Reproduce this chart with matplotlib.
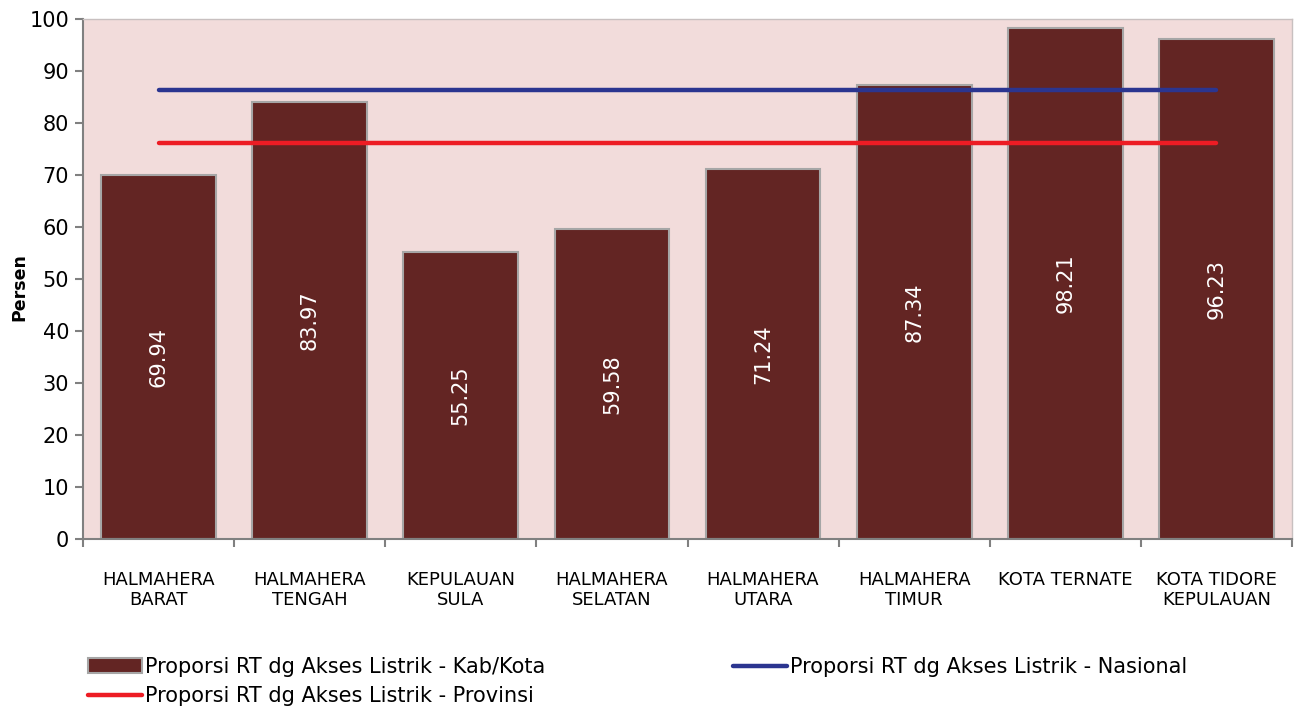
import matplotlib
matplotlib.use("Agg")
import matplotlib.pyplot as plt
import numpy as np

categories = ["HALMAHERA\nBARAT", "HALMAHERA\nTENGAH", "KEPULAUAN\nSULA", "HALMAHERA\nSELATAN",
              "HALMAHERA\nUTARA", "HALMAHERA\nTIMUR", "KOTA TERNATE", "KOTA TIDORE\nKEPULAUAN"]
kab_kota = [69.94, 83.97, 55.25, 59.58, 71.24, 87.34, 98.21, 96.23]
nasional = 86.3
provinsi = 76.1
yticks = [0, 10, 20, 30, 40, 50, 60, 70, 80, 90, 100]

fig = plt.figure(figsize=(12.97, 7.13), dpi=100)
ax = fig.add_axes([83/1297, 1-539/713, (1292-83)/1297, (539-19)/713])
ax.set_facecolor("#F2DCDB")

x = np.arange(len(categories))
bars = ax.bar(x, kab_kota, width=0.76, color="#632523", edgecolor="#A6A6A6", linewidth=1.5,
              label="Proporsi RT dg Akses Listrik - Kab/Kota", zorder=2)
for xi, v in zip(x, kab_kota):
    ax.text(xi, v/2, f"{v:.2f}", rotation=90, ha="center", va="center", color="white",
            fontsize=15, zorder=4)

ax.plot([x[0], x[-1]], [provinsi]*2, color="#ED1C24", lw=3.2, solid_capstyle="round",
        label="Proporsi RT dg Akses Listrik - Provinsi", zorder=3)
ax.plot([x[0], x[-1]], [nasional]*2, color="#2B3590", lw=3.2, solid_capstyle="round",
        label="Proporsi RT dg Akses Listrik - Nasional", zorder=3)

ax.set_xlim(-0.5, len(categories)-0.5)
ax.set_ylim(0, 100)
ax.set_yticks(yticks)
ax.tick_params(axis="y", labelsize=15, length=6, color="#808080", width=1.5, pad=4)
ax.set_xticks(np.arange(len(categories)+1)-0.5, minor=False)
ax.set_xticklabels([])
ax.tick_params(axis="x", length=6, color="#808080", width=1.5)
ax.set_xticks(x, minor=True)
ax.set_xticklabels(categories, minor=True, fontsize=13, linespacing=1.15)
ax.tick_params(axis="x", which="minor", length=0, pad=23)

for s in ["left", "bottom"]:
    ax.spines[s].set_color("#808080")
    ax.spines[s].set_linewidth(1.5)
for s in ["top", "right"]:
    ax.spines[s].set_color("#C8C0C0")
    ax.spines[s].set_linewidth(1.0)

ax.set_ylabel("Persen", fontsize=12.5, fontweight="bold")
ax.yaxis.set_label_coords(-0.045, 0.485)

h, l = ax.get_legend_handles_labels()
order = [2, 0, 1]
fig.legend([h[i] for i in order], [l[i] for i in order], ncol=2, loc="upper left",
           bbox_to_anchor=(88/1297, 1-657/713), frameon=False, fontsize=15,
           handlelength=2.6, handletextpad=0.15, columnspacing=9.0, labelspacing=0.45,
           borderpad=0, borderaxespad=0)

fig.savefig("out.png", dpi=100)
